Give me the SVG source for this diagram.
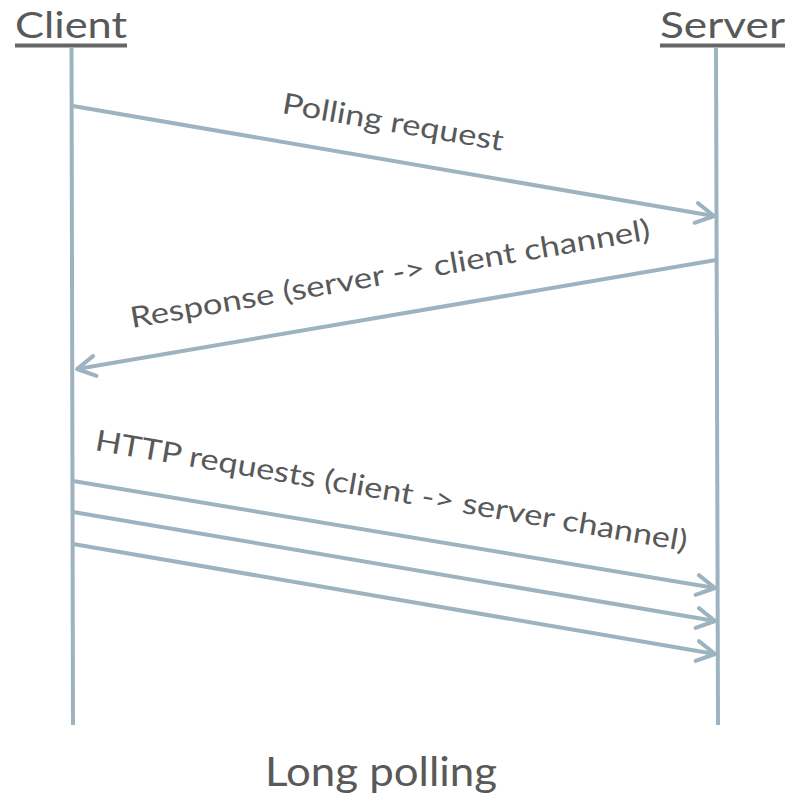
<svg xmlns="http://www.w3.org/2000/svg" width="791" height="800" viewBox="0 0 791 800">
<defs>
<style>
.t{font-family:Lato,"Open Sans","Liberation Sans",sans-serif;fill:#595959}
.life{stroke:#9db3c0;stroke-width:4;fill:none}
.msg{stroke:#9db3c0;stroke-width:4;fill:none;marker-end:url(#arr)}
.ul{stroke:#666;stroke-width:4}
</style>
<marker id="arr" markerUnits="userSpaceOnUse" viewBox="-22 -14 26 28" markerWidth="26" markerHeight="28" refX="0" refY="0" orient="auto">
<path d="M-18,-10 L0,0 L-18,10" fill="none" stroke="#9db3c0" stroke-width="4" stroke-linecap="round" stroke-linejoin="round"/>
</marker>
</defs>
<rect width="791" height="800" fill="#fff"/>
<g id="client">
<text class="t" x="15" y="38" font-size="37" textLength="112" lengthAdjust="spacingAndGlyphs">Client</text>
<line class="ul" x1="15" y1="45.5" x2="127" y2="45.5"/>
<line class="life" x1="71.5" y1="47" x2="73" y2="725"/>
</g>
<g id="server">
<text class="t" x="660" y="38" font-size="37" textLength="125" lengthAdjust="spacingAndGlyphs">Server</text>
<line class="ul" x1="660" y1="45.5" x2="785" y2="45.5"/>
<line class="life" x1="716" y1="47" x2="718" y2="725"/>
</g>
<g id="connectors">
<line class="msg" x1="73" y1="106" x2="714" y2="216"/>
<line class="msg" x1="716" y1="260" x2="77" y2="369"/>
<line class="msg" x1="73" y1="481" x2="715" y2="588"/>
<line class="msg" x1="73" y1="512" x2="715" y2="621"/>
<line class="msg" x1="73" y1="544" x2="715" y2="654"/>
</g>
<g id="labels">
<text class="t" font-size="29" x="281" y="113" transform="rotate(9.7 281 113)" textLength="224" lengthAdjust="spacingAndGlyphs">Polling request</text>
<text class="t" font-size="29" x="132" y="328" transform="rotate(-9.7 132 328)" textLength="527" lengthAdjust="spacingAndGlyphs">Response (server -&gt; client channel)</text>
<text class="t" font-size="29" x="94" y="450" transform="rotate(9.7 94 450)" textLength="600" lengthAdjust="spacingAndGlyphs">HTTP requests (client -&gt; server channel)</text>
</g>
<g id="caption">
<text class="t" x="265" y="786" font-size="40" textLength="232" lengthAdjust="spacingAndGlyphs">Long polling</text>
</g>
</svg>
